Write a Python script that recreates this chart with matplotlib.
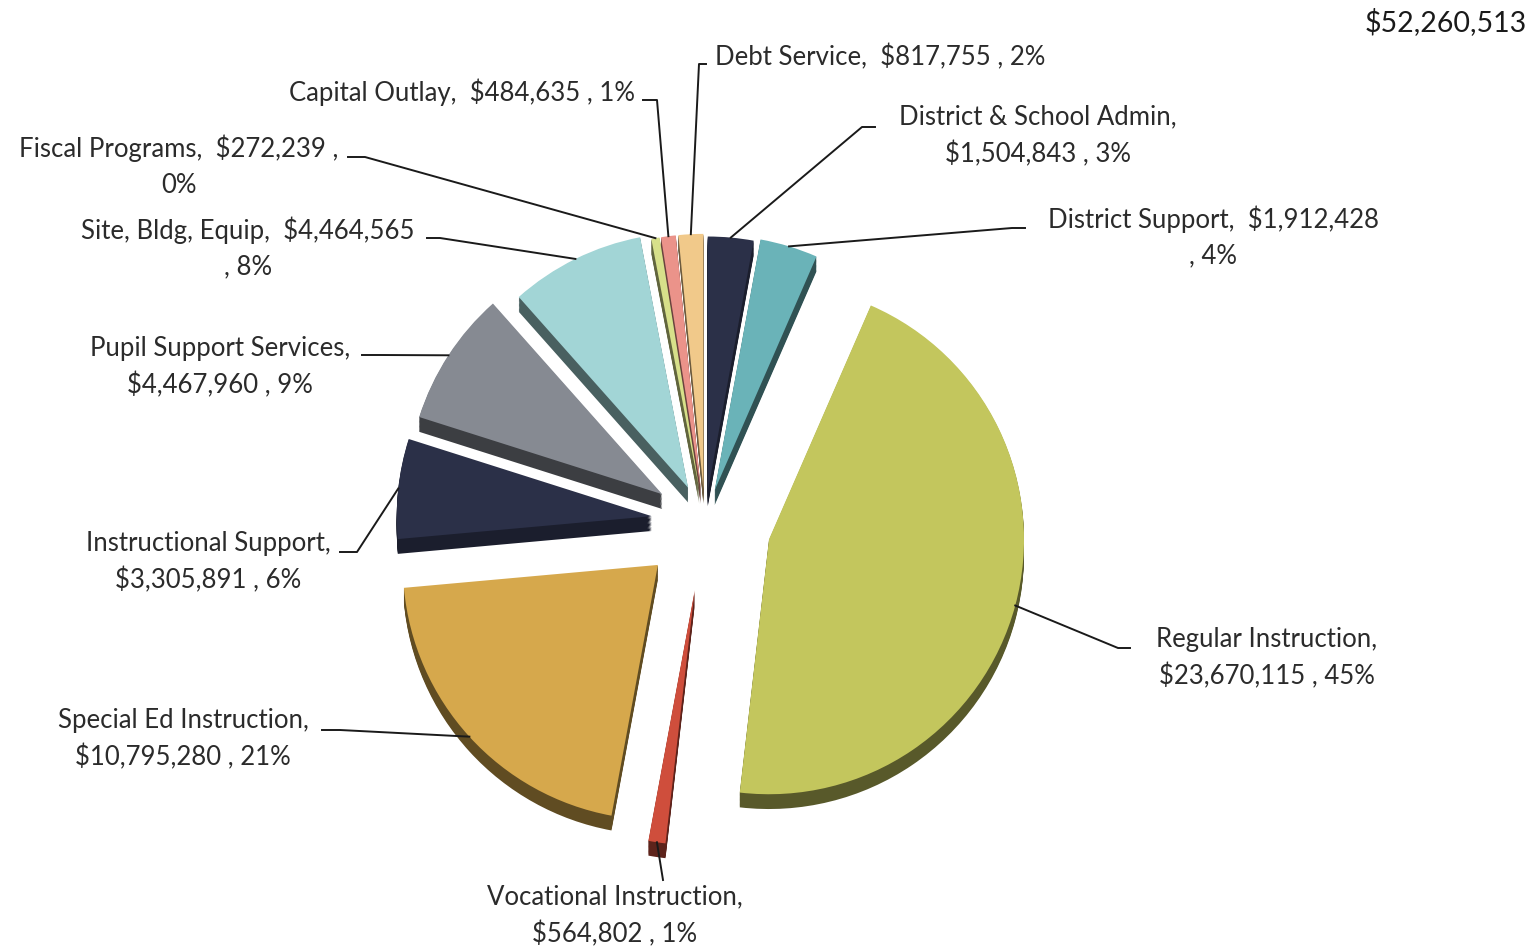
import numpy as np
import matplotlib.pyplot as plt
from matplotlib.colors import to_rgb

plt.rcParams['font.family'] = ['Lato', 'DejaVu Sans']

# data (clockwise from 12 o'clock)
categories = ['District & School Admin', 'District Support', 'Regular Instruction',
              'Vocational Instruction', 'Special Ed Instruction', 'Instructional Support',
              'Pupil Support Services', 'Site, Bldg, Equip', 'Fiscal Programs',
              'Capital Outlay', 'Debt Service']
amounts = [1504843, 1912428, 23670115, 564802, 10795280, 3305891,
           4467960, 4464565, 272239, 484635, 817755]
percents = [3, 4, 45, 1, 21, 6, 9, 8, 0, 1, 2]
total_label = '$52,260,513'

colors = ['#2B3048', '#6AB3B8', '#C3C65D', '#CF4E3C', '#D6A84C', '#2B3048',
          '#868A92', '#A2D5D6', '#D7E08A', '#EB938A', '#F1C98A']
explode = [0.12, 0.13, 0.26, 0.27, 0.25, 0.21, 0.20, 0.15, 0.13, 0.13, 0.13]

# label layout in pixels (from top-left): text centre, line break style, leader path
breaks = ['name', 'amount', 'name', 'name', 'name', 'name', 'name', 'amount', 'pct', None, None]
text_pos = [(1038, 136), (1213, 237), (1267, 658), (615, 916), (183, 739), (208, 562),
            (220, 367), (248, 248), (179, 166), (462, 92), (880, 57)]
leaders = [[(875, 127), (862, 127)], [(1025, 228), (1012, 228)], [(1130, 648), (1118, 648)],
           [(663, 880)], [(322, 730), (340, 730)], [(340, 552), (357, 552)],
           [(362, 355), (380, 355)], [(427, 238), (440, 238)], [(348, 157), (365, 157)],
           [(643, 100), (657, 100)], [(706, 64), (699, 64)]]

W, H = 1539, 949
CX, CY, R = 705, 522, 255   # pie centre / radius, pixels


def px(p):
    return ((p[0] - CX) / R, (CY - p[1]) / R)


fig = plt.figure(figsize=(W / 100, H / 100), dpi=100)
ax = fig.add_axes([0, 0, 1, 1])

# 3d side: darker copies shifted down
side = []
for c in colors:
    f = 0.62 if sum(to_rgb(c)) < 0.8 else 0.45
    side.append(tuple(v * f for v in to_rgb(c)))
for k in np.linspace(0.058, 0.004, 12):
    ax.pie(amounts, explode=explode, colors=side, startangle=90, counterclock=False,
           center=(0, -k), frame=True, wedgeprops=dict(linewidth=0))

wedges, _ = ax.pie(amounts, explode=explode, colors=colors, startangle=90,
                   counterclock=False, frame=True, wedgeprops=dict(linewidth=0))

for i, w in enumerate(wedges):
    name, amt, p = categories[i], amounts[i], percents[i]
    if breaks[i] == 'name':
        txt = f'{name},\n${amt:,} , {p}%'
    elif breaks[i] == 'amount':
        txt = f'{name},  ${amt:,}\n, {p}%'
    elif breaks[i] == 'pct':
        txt = f'{name},  ${amt:,} ,\n{p}%'
    else:
        txt = f'{name},  ${amt:,} , {p}%'
    tx, ty = px(text_pos[i])
    ax.text(tx, ty, txt, ha='center', va='center', multialignment='center',
            fontsize=18.5, color='#2b2b2b', linespacing=1.55)

    mid = np.deg2rad((w.theta1 + w.theta2) / 2)
    ancx = w.center[0] + w.r * np.cos(mid)
    ancy = w.center[1] + w.r * np.sin(mid)
    pts = [px(q) for q in leaders[i]] + [(ancx, ancy)]
    ax.plot([q[0] for q in pts], [q[1] for q in pts], color='#1a1a1a', lw=1.4, zorder=5)

tx, ty = px((1527, 22))
ax.text(tx, ty, total_label, ha='right', va='center', fontsize=20.5, color='#1a1a1a')

ax.set_xlim(-CX / R, (W - CX) / R)
ax.set_ylim(-(H - CY) / R, CY / R)
ax.set_aspect('auto')
ax.axis('off')

fig.savefig('out.png', dpi=100)
